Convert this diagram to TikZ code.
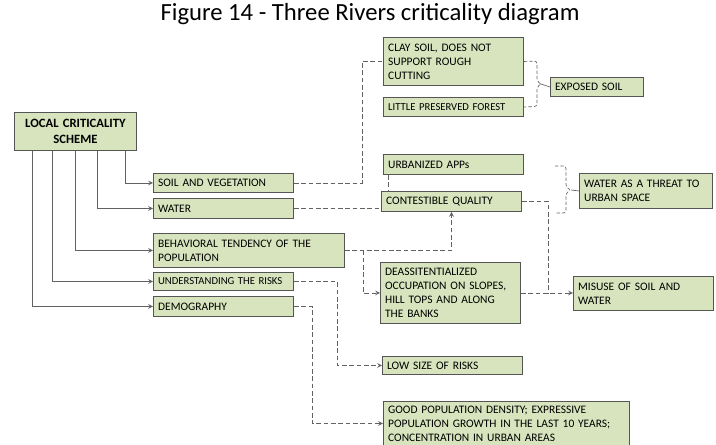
\documentclass[tikz,border=0pt]{standalone}
\usepackage{fontspec}
\setmainfont{Carlito}
\usetikzlibrary{positioning,arrows,calc}
\definecolor{box-fill}{HTML}{D7E4BD}
\definecolor{box-border}{HTML}{555555}
\definecolor{link-grey}{HTML}{626262}
\tikzstyle{scheme-box} = [rectangle, draw=box-border, fill=box-fill, line width=0.7pt, anchor=north west, inner xsep=3.5pt, inner ysep=0pt, align=left, font=\fontsize{8.6}{10.5}\selectfont]
\tikzstyle{head-box} = [scheme-box, align=center, font=\bfseries\fontsize{9.5}{12}\selectfont]
\tikzstyle{small-box} = [scheme-box, font=\fontsize{8}{9.5}\selectfont]
\tikzstyle{solid-arrow} = [->,>=stealth, draw=link-grey, line width=0.6pt]
\tikzstyle{dashed-link} = [draw=link-grey, line width=0.6pt, dash pattern=on 3.5pt off 2pt]
\tikzstyle{dashed-arrow} = [dashed-link, ->, >=stealth]
\tikzstyle{brace-link} = [draw=link-grey, line width=0.5pt, dash pattern=on 2.5pt off 1.5pt, rounded corners=2pt]

\begin{document}
\begin{tikzpicture}[x=0.75pt, y=-0.75pt]
        \useasboundingbox (0,0) rectangle (716,445);
        \node (title) at (370,14) {\fontsize{18.5}{21}\selectfont Figure 14 - Three Rivers criticality diagram};

        \node (local-criticality-scheme) [head-box, text width=84.5pt, minimum height=28.5pt] at (14,112) {LOCAL CRITICALITY\\SCHEME};
        \node (soil-and-vegetation) [scheme-box, text width=98pt, minimum height=14.25pt] at (153,173) {SOIL AND VEGETATION};
        \node (water) [scheme-box, text width=98pt, minimum height=15pt] at (153,198) {WATER};
        \node (behavioral-tendency) [scheme-box, text width=136.25pt, minimum height=25.5pt] at (153,233) {BEHAVIORAL TENDENCY OF THE\\POPULATION};
        \node (understanding-the-risks) [small-box, text width=98pt, minimum height=13.5pt] at (153,272) {UNDERSTANDING THE RISKS};
        \node (demography) [scheme-box, text width=98pt, minimum height=15pt] at (153,296) {DEMOGRAPHY};

        \node (clay-soil) [scheme-box, text width=98pt, minimum height=36pt] at (383,37) {CLAY SOIL, DOES NOT\\SUPPORT ROUGH\\CUTTING};
        \node (little-preserved-forest) [small-box, text width=98pt, minimum height=14.25pt] at (383,97) {LITTLE PRESERVED FOREST};
        \node (exposed-soil) [scheme-box, text width=62.75pt, minimum height=14.25pt] at (550,77) {EXPOSED SOIL};
        \node (urbanized-apps) [scheme-box, text width=98pt, minimum height=15pt] at (383,154) {URBANIZED APPs};
        \node (contestible-quality) [scheme-box, text width=98pt, minimum height=15pt] at (381,191) {CONTESTIBLE QUALITY};
        \node (water-as-a-threat) [scheme-box, text width=92.75pt, minimum height=26.25pt] at (579,173) {WATER AS A THREAT TO\\URBAN SPACE};
        \node (deassitentialized-occupation) [scheme-box, text width=98pt, minimum height=45.75pt] at (380,262) {DEASSITENTIALIZED\\OCCUPATION ON SLOPES,\\HILL TOPS AND ALONG\\THE BANKS};
        \node (misuse-of-soil) [scheme-box, text width=98pt, minimum height=25.5pt] at (573,276) {MISUSE OF SOIL AND\\WATER};
        \node (low-size-of-risks) [scheme-box, text width=98pt, minimum height=13.5pt] at (382,356) {LOW SIZE OF RISKS};
        \node (good-population-density) [scheme-box, text width=177.5pt, minimum height=33pt] at (383,401) {GOOD POPULATION DENSITY; EXPRESSIVE\\POPULATION GROWTH IN THE LAST 10 YEARS;\\CONCENTRATION IN URBAN AREAS};

        \coordinate (exposed-brace-tip) at (541,84);
        \coordinate (threat-brace-top) at (555,166);
        \coordinate (threat-brace-tip) at (571,190);
        \coordinate (threat-brace-bottom) at (555,213);

        \draw [solid-arrow] ($(local-criticality-scheme.south west)+(111,0)$) |- (soil-and-vegetation.west);
        \draw [solid-arrow] ($(local-criticality-scheme.south west)+(83,0)$) |- (water.west);
        \draw [solid-arrow] ($(local-criticality-scheme.south west)+(61,0)$) |- (behavioral-tendency.west);
        \draw [solid-arrow] ($(local-criticality-scheme.south west)+(38,0)$) |- (understanding-the-risks.west);
        \draw [solid-arrow] ($(local-criticality-scheme.south west)+(18,0)$) |- (demography.west);

        \draw [dashed-link] (soil-and-vegetation.east) -| ($(clay-soil.west)+(-21,0)$) -- (clay-soil.west);
        \draw [dashed-link] (water.east) -- (water.east -| contestible-quality.west);
        \draw [dashed-link] ($(urbanized-apps.south west)+(5,0)$) -- ($(contestible-quality.north west)+(7,0)$);
        \draw [dashed-arrow] (behavioral-tendency.east) -| (contestible-quality.south);
        \draw [dashed-arrow] ($(behavioral-tendency.east)+(18,0)$) |- (deassitentialized-occupation.west);
        \draw [dashed-arrow] (deassitentialized-occupation.east) -- (deassitentialized-occupation.east -| misuse-of-soil.west);
        \draw [dashed-link] (contestible-quality.east) -| ($(deassitentialized-occupation.east)+(27,0)$);
        \draw [dashed-arrow] (understanding-the-risks.east) -| ($(low-size-of-risks.west)+(-45,0)$) -- (low-size-of-risks.west);
        \draw [dashed-arrow] (demography.east) -| ($(good-population-density.west)+(-71,0)$) -- (good-population-density.west);

        \draw [brace-link] (clay-soil.east) -- (537,61) -- (537,81) -- (exposed-brace-tip) -- (537,87) -- (537,106.5) -- (little-preserved-forest.east);
        \draw [draw=link-grey, line width=0.5pt] (exposed-brace-tip) -- (exposed-soil.west);
        \draw [brace-link] (threat-brace-top) -- (566,166) -- (566,187) -- (threat-brace-tip) -- (566,193) -- (566,213) -- (threat-brace-bottom);
        \draw [draw=link-grey, line width=0.5pt] (threat-brace-tip) -- (water-as-a-threat.west);
    \end{tikzpicture}
\end{document}
